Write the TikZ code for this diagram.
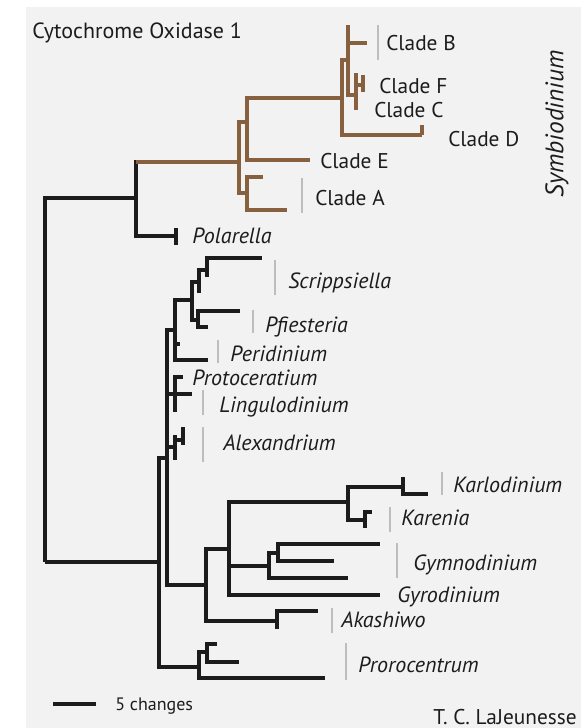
\documentclass[tikz,border=0pt]{standalone}
\usepackage{fontspec}
\setmainfont{PT Sans}
\usetikzlibrary{positioning}
\definecolor{ink}  {HTML}{1C1C1C}
\definecolor{rust} {HTML}{87603F}
\definecolor{paper}{HTML}{F2F2F2}
\definecolor{rule} {HTML}{BDBDBD}
\tikzset{
  % --- branches
  br/.style  = {draw=ink, line width=2.3pt},
  sym/.style = {draw=rust, line width=2.3pt},
  bar/.style = {draw=rule, line width=0.9pt},
  % --- labels
  cl/.style  = {font=\fontsize{16}{18}\selectfont, text=ink, inner sep=0pt, anchor=base west},
  tax/.style = {cl, font=\fontsize{16.5}{18}\selectfont\itshape},
}

\begin{document}
\begin{tikzpicture}[x=0.75pt,y=-0.75pt]
  \useasboundingbox (0,0) rectangle (581,728);
  \fill[paper] (26,7) rectangle (581,728);

  % tree points (pixel grid of the plate)
  \foreach \n/\x/\y in {r/45/562, u/136/198, l/159/562, s/239/162,
      pol/176/236, pola/176/228, polb/176/245,
      sa/247/122, sA/247/193, sbig/342/98, cE/310/160,
      sB/348/60, cD/422/135, cDt/422/125, sBz/348/25, cB/367/43, sFC/356/95,
      sFCa/356/73, sFCb/356/110, sFC2/363/85, cF/363/75, cC/363/92,
      cAa/263/177, cAb/287/210,
      a/167/458, pro/199/667,
      pa/175/330, pl/175/394, al/175/447, k/206/585,
      sp/192/300, pe1/180/344, pe2/208/360,
      sc/199/282, pf/198/320, sc2/207/270, scz/199/293, sct/262/258, sc3/207/277,
      pfa/240/311, pfb/208/327,
      prt/183/377, lin/192/394, plz/175/412,
      al2/183/440, ala/175/435, alb/175/460, alc/183/427, ald/183/445,
      kk/229/549, ak/277/621,
      ka/348/502, gy/269/566, gyr/380/595,
      kr/403/487, ke/365/520, krz/403/477, kra/428/494, kea/372/512, kez/365/528,
      gy2/278/553, gyb/348/578, gma/380/544, gmb/334/561,
      aka/318/611, akz/277/629,
      pro2/207/652, prob/325/678, pra/217/644, prc/239/662,
      sb1/53/704, sb2/96/704}
    \coordinate (\n) at (\x,\y);

  % black part of the tree
  \foreach \p/\c in {r/u, r/l, u/s, u/pol, pol/pola, pol/polb,
      l/a, l/pro, a/pa, a/pl, a/al, a/k,
      pa/sp, pa/pe1, pa/pe2, sp/sc, sp/pf, sc/sc2, sc/scz, sc2/sct, sc2/sc3,
      pf/pfa, pf/pfb, pl/prt, pl/lin, pl/plz,
      al/al2, al/ala, al/alb, al2/alc, al2/ald,
      k/kk, k/ak, kk/ka, kk/gy, kk/gyr, ka/kr, ka/ke,
      kr/krz, kr/kra, ke/kea, ke/kez, gy/gy2, gy/gyb, gy2/gma, gy2/gmb,
      ak/aka, ak/akz, pro/pro2, pro/prob, pro2/pra, pro2/prc}
    \draw[br] (\p) |- (\c);

  % Symbiodinium in brown
  \draw[sym] (u |- s) -- (s);
  \foreach \p/\c in {s/sa, s/sA, sa/sbig, sa/cE, sbig/sB, sbig/cD, cD/cDt,
      sB/sBz, sB/cB, sB/sFC, sFC/sFCa, sFC/sFCb, sFC/sFC2, sFC2/cF, sFC2/cC,
      sA/cAa, sA/cAb}
    \draw[sym] (\p) |- (\c);

  % scale
  \draw[br] (sb1) -- (sb2);

  % grey brackets
  \foreach \x/\a/\b in {378/25/60, 302/178/213, 275/260/295, 253/310/333,
      218/340/363, 203/390/415, 203/427/462, 442/472/495, 390/507/532,
      397/543/578, 332/608/633, 346/643/680}
    \draw[bar] (\x,\a) -- (\x,\b);

  % labels
  \node[cl, font=\fontsize{16.5}{18}\selectfont] (title) at (32,38) {Cytochrome Oxidase 1};
  \node[cl] (lB) at (386,50) {Clade B};
  \node[cl] (lF) at (379,93) {Clade F};
  \node[cl] (lC) at (374,117) {Clade C};
  \node[cl] (lD) at (448,146) {Clade D};
  \node[cl] (lE) at (320,168) {Clade E};
  \node[cl] (lA) at (315,205) {Clade A};
  \node[tax, anchor=center, rotate=90, font=\fontsize{19}{21}\selectfont\itshape] (symb) at (557,124) {Symbiodinium};
  \node[tax] (lpol) at (192,243) {Polarella};
  \node[tax] (lscr) at (288,288) {Scrippsiella};
  \node[tax] (lpfi) at (265,332) {Pfiesteria};
  \node[tax] (lper) at (230,361) {Peridinium};
  \node[tax] (lpro) at (192,385) {Protoceratium};
  \node[tax] (llin) at (219,412) {Lingulodinium};
  \node[tax] (lale) at (223,450) {Alexandrium};
  \node[tax] (lkar) at (453,492) {Karlodinium};
  \node[tax] (lken) at (401,525) {Karenia};
  \node[tax] (lgym) at (413,570) {Gymnodinium};
  \node[tax] (lgyr) at (397,602) {Gyrodinium};
  \node[tax] (laka) at (341,627) {Akashiwo};
  \node[tax] (lpor) at (358,672) {Prorocentrum};
  \node[cl, font=\fontsize{13.5}{15}\selectfont] (lsc) at (115,710) {5 changes};
  \node[cl, anchor=base east] (auth) at (577,724) {T. C. LaJeunesse};
\end{tikzpicture}
\end{document}
